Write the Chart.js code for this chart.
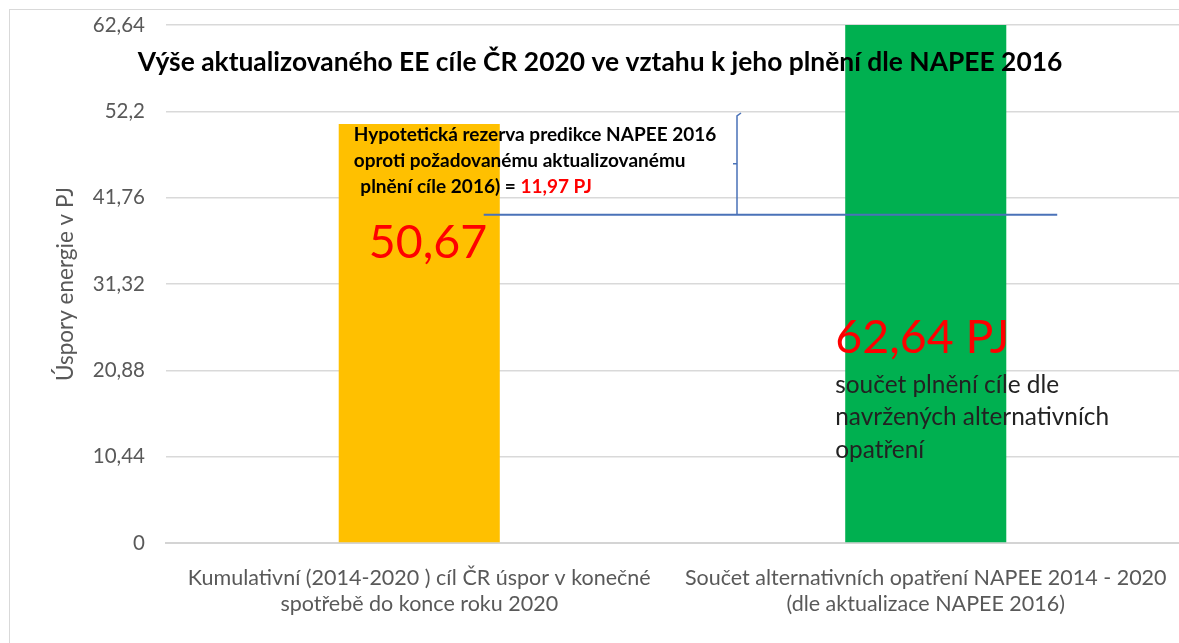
<!DOCTYPE html>
<html lang="cs">
<head>
<meta charset="utf-8">
<title>Výše aktualizovaného EE cíle ČR 2020</title>
<script src="https://cdn.jsdelivr.net/npm/chart.js@4.4.1/dist/chart.umd.min.js"></script>
<style>
    html, body { margin: 0; padding: 0; background: #fff; overflow: hidden; }
    #wrap { position: relative; width: 1179px; height: 643px; }
    #frame { position: absolute; left: 9px; top: 9px; width: 1200px; height: 700px;
             border: 1px solid #d9d9d9; box-sizing: border-box; pointer-events: none; }
    canvas { position: absolute; left: 0; top: 0; }
</style>
</head>
<body>
<div id="wrap">
    <div id="frame"></div>
    <canvas id="chart" width="1179" height="643"></canvas>
</div>
<script>
// ---------------------------------------------------------------------------
// Data
// ---------------------------------------------------------------------------
var categories = [
    ['Kumulativní (2014-2020 ) cíl ČR úspor v konečné', 'spotřebě do konce roku 2020'],
    ['Součet alternativních opatření NAPEE 2014 - 2020', '(dle aktualizace NAPEE 2016)']
];
var savingsValues = [50.67, 62.64];
var barColors = ['#ffc000', '#00b050'];
var yTicks = [0, 10.44, 20.88, 31.32, 41.76, 52.2, 62.64];
var reserveValue = 11.97;
// bracket drawn by hand in the original: top and bottom level (PJ)
var bracketLevels = [52.0, 39.7];

var titleText = 'Výše aktualizovaného EE cíle ČR 2020 ve vztahu k jeho plnění dle NAPEE 2016';
var axisTitle = 'Úspory energie v PJ';
var reserveLines = ['Hypotetická rezerva predikce NAPEE 2016', 'oproti požadovanému aktualizovanému', ' plnění cíle 2016) = '];
var noteLines = ['součet plnění cíle dle', 'navržených alternativních', 'opatření'];

var FONT = 'Lato, "Open Sans", sans-serif';

function czNumber(v) {
    return Number(v.toFixed(2)).toLocaleString('cs-CZ', { maximumFractionDigits: 2 });
}

// Overlay: title, annotation texts and the blue bracket
var overlayPlugin = {
    id: 'overlay',
    afterDatasetsDraw: function(chart) {
        var ctx = chart.ctx;
        var y = chart.scales.y;
        var area = chart.chartArea;
        var bars = chart.getDatasetMeta(0).data;
        var orange = bars[0], green = bars[1];
        var oLeft = orange.x - orange.width / 2;
        var gLeft = green.x - green.width / 2;

        ctx.save();

        // blue bracket and level line
        var yTop = y.getPixelForValue(bracketLevels[0]);
        var yBot = y.getPixelForValue(bracketLevels[1]);
        var bx = area.left + 571;
        ctx.strokeStyle = '#4a72b8';
        ctx.lineWidth = 2;
        ctx.beginPath();
        ctx.moveTo(oLeft + 145, yBot);
        ctx.lineTo(gLeft + 212, yBot);
        ctx.stroke();
        ctx.lineWidth = 1.5;
        ctx.beginPath();
        ctx.moveTo(bx + 4, yTop);
        ctx.lineTo(bx, yTop + 3);
        ctx.lineTo(bx, yBot);
        ctx.moveTo(bx, (yTop + yBot) / 2);
        ctx.lineTo(bx - 4, (yTop + yBot) / 2);
        ctx.stroke();

        // chart title (sits inside the plot, over the green bar)
        ctx.fillStyle = '#000';
        ctx.font = 'bold 26.4px ' + FONT;
        ctx.textAlign = 'center';
        ctx.textBaseline = 'middle';
        ctx.fillText(titleText, 600, 62);

        // reserve note
        ctx.textAlign = 'left';
        ctx.font = 'bold 19px ' + FONT;
        var tx = oLeft + 15;
        ctx.fillText(reserveLines[0], tx, 135);
        ctx.fillText(reserveLines[1], tx, 161);
        ctx.fillText(reserveLines[2], tx + 2, 187);
        var w = ctx.measureText(reserveLines[2]).width;
        ctx.fillStyle = '#ff0000';
        ctx.fillText(czNumber(reserveValue) + ' PJ', tx + 2 + w, 187);

        // big values
        ctx.font = '46.5px ' + FONT;
        ctx.fillStyle = '#ff0000';
        ctx.fillText(czNumber(savingsValues[0]), oLeft + 30, 243);
        ctx.fillText(czNumber(savingsValues[1]) + ' PJ', gLeft - 10, 338);

        // green bar note
        ctx.fillStyle = '#222';
        ctx.font = '24.4px ' + FONT;
        for (var i = 0; i < noteLines.length; i++) {
            ctx.fillText(noteLines[i], gLeft - 10, 385 + i * 32.5);
        }

        ctx.restore();
    }
};

var chart = new Chart(document.getElementById('chart'), {
    type: 'bar',
    data: {
        labels: categories,
        datasets: [{
            data: savingsValues,
            backgroundColor: barColors,
            borderWidth: 0,
            categoryPercentage: 1,
            barPercentage: 0.318
        }]
    },
    options: {
        responsive: false,
        animation: false,
        layout: { padding: { top: 25, right: 0, bottom: 0, left: 0 } },
        plugins: {
            legend: { display: false },
            title: { display: false },
            tooltip: { enabled: false }
        },
        scales: {
            x: {
                grid: { display: false, drawTicks: false },
                border: { display: true, color: '#d4d4d4', width: 2 },
                ticks: {
                    color: '#595959',
                    padding: 22,
                    maxRotation: 0,
                    font: { family: FONT, size: 21.5, lineHeight: 1.21 }
                },
                afterFit: function(scale) {
                    scale.height = 100;
                    scale.paddingLeft = 0;
                    scale.paddingRight = 0;
                }
            },
            y: {
                min: 0,
                max: 62.64,
                grid: { color: '#d9d9d9', lineWidth: 1.5, drawTicks: false },
                border: { display: false },
                ticks: {
                    color: '#595959',
                    padding: 21,
                    font: { family: FONT, size: 20.5 },
                    callback: function(v) { return czNumber(v); }
                },
                afterBuildTicks: function(scale) {
                    scale.ticks = yTicks.map(function(v) { return { value: v }; });
                },
                title: {
                    display: true,
                    text: axisTitle,
                    color: '#595959',
                    font: { family: FONT, size: 22.5 },
                    padding: { top: 52, bottom: 0 }
                },
                afterFit: function(scale) {
                    scale.width = 166;
                    scale.paddingTop = 0;
                    scale.paddingBottom = 0;
                }
            }
        }
    },
    plugins: [overlayPlugin]
});
</script>
</body>
</html>
